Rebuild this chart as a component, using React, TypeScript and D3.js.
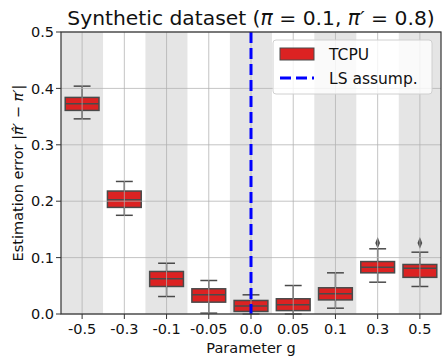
import React from "react";
import * as d3 from "d3";

const categories = ["-0.5", "-0.3", "-0.1", "-0.05", "0.0", "0.05", "0.1", "0.3", "0.5"];
const whiskerLow = [0.346, 0.175, 0.031, 0.0015, 0.0, 0.0, 0.0103, 0.0564, 0.0488];
const q1 = [0.361, 0.189, 0.0488, 0.021, 0.0045, 0.006, 0.025, 0.073, 0.065];
const median = [0.373, 0.2025, 0.0624, 0.034, 0.014, 0.0163, 0.0358, 0.083, 0.081];
const q3 = [0.384, 0.218, 0.0754, 0.0447, 0.024, 0.027, 0.0465, 0.093, 0.0878];
const whiskerHigh = [0.404, 0.235, 0.09, 0.0594, 0.034, 0.0505, 0.073, 0.1156, 0.1096];
const outliers = [[], [], [], [], [], [], [], [0.126], [0.126]];
const yTicks = [0.0, 0.1, 0.2, 0.3, 0.4, 0.5];

const W = 448;
const H = 362;
const margin = { top: 32, right: 7, bottom: 48, left: 61 };

export default function App() {
  const x = d3.scaleBand().domain(categories).range([margin.left, W - margin.right]).paddingInner(0).paddingOuter(0);
  const y = d3.scaleLinear().domain([0, 0.5]).range([H - margin.bottom, margin.top]);
  const bw = x.bandwidth();
  const boxW = bw * 0.8;
  const font = "DejaVu Sans";
  const edge = "#4a4a4a";
  const grid = "rgba(176,176,176,0.75)";
  const zeroX = x("0.0")! + bw / 2;

  return (
    <svg width={W} height={H} style={{ position: "absolute", left: 0, top: 0 }} fontFamily={font}>
      <rect x={0} y={0} width={W} height={H} fill="white" />
      {/* alternating background bands */}
      {categories.map((c, i) => (
        <rect key={"band" + c} x={x(c)} y={margin.top} width={bw} height={y(0) - margin.top}
          fill={i % 2 === 0 ? "#e5e5e5" : "white"} />
      ))}
      {/* boxes */}
      {categories.map((c, i) => {
        const cx = x(c)! + bw / 2;
        return (
          <g key={"box" + c}>
            <line x1={cx} x2={cx} y1={y(whiskerLow[i])} y2={y(q1[i])} stroke={edge} strokeWidth={1.5} />
            <line x1={cx} x2={cx} y1={y(q3[i])} y2={y(whiskerHigh[i])} stroke={edge} strokeWidth={1.5} />
            <line x1={cx - boxW / 4} x2={cx + boxW / 4} y1={y(whiskerLow[i])} y2={y(whiskerLow[i])} stroke={edge} strokeWidth={1.5} />
            <line x1={cx - boxW / 4} x2={cx + boxW / 4} y1={y(whiskerHigh[i])} y2={y(whiskerHigh[i])} stroke={edge} strokeWidth={1.5} />
            <rect x={cx - boxW / 2} y={y(q3[i])} width={boxW} height={y(q1[i]) - y(q3[i])}
              fill="#dc2222" stroke={edge} strokeWidth={1.5} />
            <line x1={cx - boxW / 2} x2={cx + boxW / 2} y1={y(median[i])} y2={y(median[i])} stroke={edge} strokeWidth={1.5} />
            {outliers[i].map((o, j) => (
              <path key={j} d={d3.symbol(d3.symbolDiamond, 30)()!}
                transform={`translate(${cx},${y(o)}) scale(0.8,1.15)`} fill={edge} />
            ))}
          </g>
        );
      })}
      {/* grid on top */}
      {yTicks.map((t) => (
        <line key={"gy" + t} x1={margin.left} x2={W - margin.right} y1={y(t)} y2={y(t)} stroke={grid} strokeWidth={1} />
      ))}
      {categories.map((c) => (
        <line key={"gx" + c} x1={x(c)! + bw / 2} x2={x(c)! + bw / 2} y1={margin.top} y2={y(0)} stroke={grid} strokeWidth={1} />
      ))}
      {/* LS assumption line */}
      <line x1={zeroX} x2={zeroX} y1={margin.top} y2={y(0)} stroke="#0000ff" strokeWidth={3} strokeDasharray="11,5" />
      {/* frame */}
      <rect x={margin.left} y={margin.top} width={W - margin.left - margin.right} height={y(0) - margin.top}
        fill="none" stroke="#333" strokeWidth={1.2} />
      {/* y ticks */}
      {yTicks.map((t) => (
        <g key={"yt" + t}>
          <line x1={margin.left - 5} x2={margin.left} y1={y(t)} y2={y(t)} stroke="#333" />
          <text x={margin.left - 7} y={y(t)} dy="0.36em" textAnchor="end" fontSize={14.5} fill="#111">{t.toFixed(1)}</text>
        </g>
      ))}
      {/* x ticks */}
      {categories.map((c) => (
        <g key={"xt" + c}>
          <line x1={x(c)! + bw / 2} x2={x(c)! + bw / 2} y1={y(0)} y2={y(0) + 5} stroke="#333" />
          <text x={x(c)! + bw / 2} y={y(0) + 20} textAnchor="middle" fontSize={14.5} fill="#111">{c}</text>
        </g>
      ))}
      <text x={(margin.left + W - margin.right) / 2} y={353} textAnchor="middle" fontSize={14.5} fill="#111">Parameter g</text>
      <text transform={`translate(23,${(margin.top + y(0)) / 2}) rotate(-90)`} textAnchor="middle" fontSize={14.5} fill="#111">
        Estimation error |<tspan fontStyle="italic">{"\u03C0\u0302\u2032"}</tspan> − <tspan fontStyle="italic">{"\u03C0\u2032"}</tspan>|
      </text>
      {/* title */}
      <text x={(margin.left + W - margin.right) / 2} y={25} textAnchor="middle" fontSize={20.3} fill="#111">
        Synthetic dataset (<tspan fontStyle="italic">π</tspan> = 0.1, <tspan fontStyle="italic">{"\u03C0\u2032"}</tspan> = 0.8)
      </text>
      {/* legend */}
      <g>
        <rect x={273} y={40} width={159} height={54} rx={3} fill="rgba(255,255,255,0.8)" stroke="#d0d0d0" />
        <rect x={280} y={48} width={34} height={12} fill="#dc2222" stroke={edge} strokeWidth={1} />
        <text x={329} y={60} fontSize={15.5} fill="#111">TCPU</text>
        <line x1={280} x2={314} y1={78} y2={78} stroke="#0000ff" strokeWidth={3} strokeDasharray="11,5" />
        <text x={329} y={84} fontSize={15.5} fill="#111">LS assump.</text>
      </g>
    </svg>
  );
}
